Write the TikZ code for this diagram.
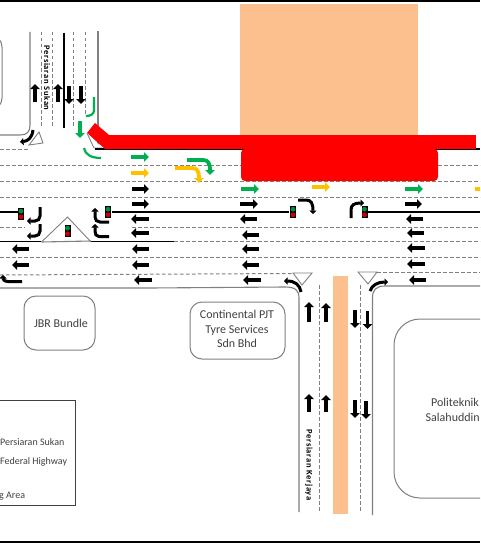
\documentclass[tikz,border=0pt]{standalone}
\usepackage{fontspec}
\setmainfont{Carlito}
\newfontfamily\rotfont[LetterSpace=8]{Carlito}
\usetikzlibrary{arrows.meta}
\definecolor{peach}{HTML}{FBC08E}
\definecolor{gn}{HTML}{00B050}
\definecolor{yl}{HTML}{FFC000}
\definecolor{rd}{HTML}{FF0000}
\definecolor{gl}{HTML}{808080}
\definecolor{tx}{HTML}{404040}
\tikzset{
 blk/.style={black,line width=3.8pt,-{Triangle[length=5pt,width=9.5pt]}},
 grn/.style={gn,line width=3.8pt,-{Triangle[length=5pt,width=9.5pt]}},
 ylw/.style={yl,line width=3.8pt,-{Triangle[length=5pt,width=9.5pt]}},
 blkc/.style={black,line width=3pt,-{Triangle[length=3.5pt,width=7pt]}},
 grnc/.style={gn,line width=2.2pt},
 dsh/.style={gl,line width=1pt,dash pattern=on 3.5pt off 2.5pt},
 edge/.style={gl,line width=1.1pt},
 solid/.style={black,line width=1.6pt},
 bld/.style={gl,line width=1pt,rounded corners=12pt},
 lab/.style={text=tx,font=\fontsize{12}{14.5}\selectfont,align=center,inner sep=0pt},
 leg/.style={text=tx,font=\fontsize{10}{12}\selectfont,anchor=west,inner sep=0pt},
 rlab/.style={black,font=\rotfont\bfseries\fontsize{8.5}{10}\selectfont,rotate=-90,inner sep=0pt},
 tri/.style={draw=gl,fill=white,line width=0.9pt},
}
\newcommand{\sig}[2]{%
 \fill[black] (#1-3,#2-6) rectangle (#1+3,#2+6);
 \fill[gn!80!black] (#1,#2-2.8) circle (2.4pt);
 \fill[rd!80!black] (#1,#2+2.8) circle (2.4pt);}
\begin{document}
\begin{tikzpicture}[x=1pt,y=-1pt]
\useasboundingbox (0,0) rectangle (480,543);
\clip (0,0) rectangle (480,543);
\fill[white] (0,0) rectangle (480,543);
\fill[black] (0,0) rectangle (480,2);
\fill[black] (0,541) rectangle (480,543);
% peach
\fill[peach] (240,4) rectangle (418,135);
\fill[peach] (333,276) rectangle (348,514);
% road edges
\draw[edge] (30,32) -- (30,125) .. controls (30,132) and (27,135) .. (20,135) -- (0,135);
\draw[edge] (98,31) -- (98,148);
\draw[edge] (0,288) -- (150,288) -- (285,287) .. controls (295,287) and (299,290) .. (299,298) -- (299,512);
\draw[edge] (480,286) -- (385,286) .. controls (376,286) and (372.5,290) .. (372.5,298) -- (372.5,515);
% dashed lanes
\foreach \x/\a/\b in {41/32/127,52/32/127,73.5/32/128,85.5/32/115,319/285/512,360/285/512}
  \draw[dsh] (\x,\a) -- (\x,\b);
\draw[dsh] (0,149) -- (28,149);
\draw[dsh] (0,165) -- (480,165);
\draw[dsh] (0,181) -- (480,181);
\draw[dsh] (0,197.5) -- (480,197.5);
\draw[dsh] (0,227.5) -- (25,227.5);
\draw[dsh] (132,227) -- (480,227);
\draw[dsh] (174,241.5) -- (480,241.5);
\draw[dsh] (0,257.5) -- (480,257.5);
\draw[dsh] (0,275) -- (293,273.5);
\draw[dsh] (377,272) -- (480,272);
% solid lines
\draw[solid,line width=2pt] (64,33) -- (64,128);
\draw[solid] (0,212) -- (18,212);
\draw[solid] (112,212) -- (289,212);
\draw[solid] (368,212) -- (480,212);
\draw[solid] (0,241.5) -- (41,241.5);
\draw[solid] (91,241.5) -- (174,241.5);
\draw[solid] (95,149) -- (480,149);
% red
\fill[rd] (112,135) rectangle (476,149);
\fill[rd] (87,133) -- (95,123) -- (109,135) -- (112,135) -- (112,149) -- (105,149) -- cycle;
\fill[rd,rounded corners=4pt] (241,149) rectangle (438,181);
% triangles
\draw[tri] (41.5,242) -- (67.5,217) -- (91,242);
\draw[edge] (41.5,242) -- (91,241);
\draw[tri] (29,145) -- (43,143) -- (39,132) -- cycle;
\draw[tri] (87,133) -- (94,148) -- (102,148);
\draw[tri] (293,273) -- (312,273) -- (302,285) -- cycle;
\draw[tri] (358,272) -- (377,272) -- (368,284) -- cycle;
% buildings
\draw[bld] (-8,35) -- (2,35) -- (2,110) -- (-8,110);
\draw[bld] (24,296) rectangle (95,350);
\draw[bld] (190,302) rectangle (285,359);
\draw[gl,line width=1pt,rounded corners=26pt] (500,319) -- (394,319) -- (394,498) -- (500,498);
\draw[tx,line width=0.9pt] (-5,400) rectangle (75,505.5);
% labels
\node[lab] (jbr) at (61,323) {JBR Bundle};
\node[lab] (conti) at (237,329) {Continental PJT\\Tyre Services\\Sdn Bhd};
\node[lab,anchor=west] (poli) at (431,402) {Politeknik};
\node[lab,anchor=west] (sala) at (425.5,417) {Salahuddin};
\node[leg] (l1) at (0,442) {Persiaran Sukan};
\node[leg] (l2) at (0,461.5) {Federal Highway};
\node[leg] (l3) at (-1,496.5) {g Area};
\node[rlab] (sukan) at (47,78) {Persiaran Sukan};
\node[rlab] (kerjaya) at (309,465) {Persiaran Kerjaya};
% signals
\sig{21}{214}\sig{67.5}{231}\sig{108}{212}\sig{293}{212}\sig{364.5}{212}
% top arrows
\draw[blk] (35,102) -- (35,84);
\draw[blk] (58,102) -- (58,84);
\draw[blk] (69,86) -- (69,104);
\draw[blk] (81,86) -- (81,104);
\draw[blkc] (33,130) .. controls (32,138) and (28,141) .. (20,142);
\draw[black,line width=1.6pt] (95,148.5) -- (103,148.5);
% green
\draw[grnc] (94,97) -- (94,110) .. controls (94,114) and (91,116) .. (86,116);
\draw[grn] (80,121) -- (80,138);
\draw[grnc] (84,148) .. controls (85,155) and (92,158) .. (101,158);
\draw[grn] (131,157) -- (149,157);
\draw[ylw] (131,173) -- (149,173);
\draw[grn] (187,160) -- (203,160) .. controls (208,160) and (210,163) .. (210,175);
\draw[ylw] (175,168) -- (192,168) .. controls (197,168) and (199,171) .. (199,183);
\draw[grn] (241,189) -- (259,189);
\draw[grn] (405,189) -- (423,189);
\draw[ylw] (312,187) -- (330,187);
\draw[ylw] (475,189) -- (493,189);
% through arrows
\foreach \a/\b/\y in {132/149/189,132/149/204,240/258/204,405/422/204}
  \draw[blk] (\a,\y) -- (\b,\y);
\foreach \a/\b/\y in {149/131/219,149/131/233,149/132/249,149/132/265,152/134/280,
  257/240/219,259/242/235,259/242/249,259/242/265,261/243/280,
  423/406/219,424/407/233,425/407/248,425/407/264,426/409/280,
  29/12/249,29/12/265}
  \draw[blk] (\a,\y) -- (\b,\y);
% left turns
\draw[blkc] (22,281.5) -- (8,281.5) .. controls (4,281.5) and (3,279) .. (3,275);
\draw[blkc] (40,207) -- (40,216) .. controls (40,219) and (38,221) .. (35,221) -- (27,221);
\draw[blkc] (40,224) -- (40,231) .. controls (40,234) and (38,236) .. (35,236) -- (27,236);
\draw[blkc] (109,222) -- (100,222) .. controls (97,222) and (95,220) .. (95,217) -- (95,208);
\draw[blkc] (109,236.5) -- (99,236.5) .. controls (96,236.5) and (95,234) .. (95,231) -- (95,224);
% junction turns
\draw[blkc] (298,200) -- (306,200) .. controls (311,200) and (313,203) .. (313,214);
\draw[blkc] (351,218) -- (351,210) .. controls (351,205) and (354,203) .. (364,203);
\draw[blkc] (301,292) .. controls (300,285) and (295,281) .. (284,281);
\draw[blkc] (370,291) .. controls (372,285) and (378,282) .. (388,282);
% kerjaya arrows
\foreach \x/\a/\b in {309/322/302,326/322/303,309/412/394,326/412/395}
  \draw[blk] (\x,\a) -- (\x,\b);
\foreach \x/\a/\b in {355/310/328,367.5/311/329,355/400/418,366/401/419}
  \draw[blk] (\x,\a) -- (\x,\b);
\end{tikzpicture}
\end{document}
